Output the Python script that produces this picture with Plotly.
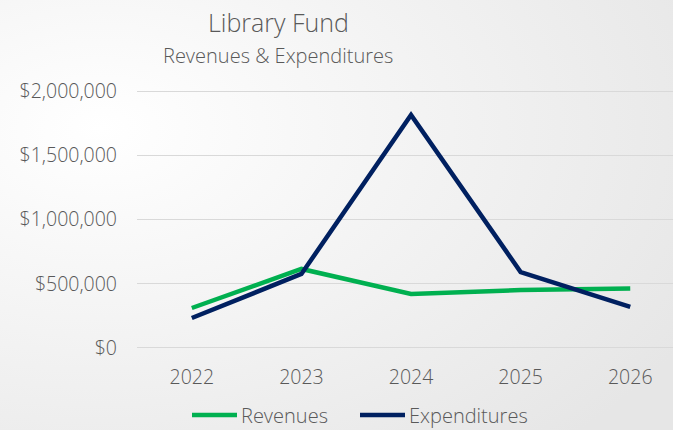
import base64
import plotly.graph_objects as go

years = ['2022', '2023', '2024', '2025', '2026']
revenues = [311000, 615000, 420000, 451000, 462000]
expenditures = [233000, 576000, 1813000, 591000, 319000]
y_ticks = [0, 500000, 1000000, 1500000, 2000000]
y_tick_labels = ['$0', '$500,000', '$1,000,000', '$1,500,000', '$2,000,000']
series_names = ['Revenues', 'Expenditures']
series_colors = ['#00B050', '#002060']

FONT = 'Open Sans'
TEXT = '#595959'
W, H = 673, 430
L, T, B = 137, 89, 80
PW, PH = W - L, H - T - B

# soft grey gradient background (white on the left, light grey on the right)
svg = ('<svg xmlns="http://www.w3.org/2000/svg" width="673" height="430">'
       '<defs><radialGradient id="g" cx="0.15" cy="0.3" r="1.0">'
       '<stop offset="0" stop-color="#ffffff"/>'
       '<stop offset="1" stop-color="#e6e6e6"/>'
       '</radialGradient></defs>'
       '<rect width="673" height="430" fill="url(#g)"/></svg>')
bg = 'data:image/svg+xml;base64,' + base64.b64encode(svg.encode()).decode()


def px(x):
    return (x - L) / PW


def py(y):
    return 1 - (y - T) / PH


fig = go.Figure()
for name, vals, col in zip(series_names, [revenues, expenditures], series_colors):
    fig.add_trace(go.Scatter(x=years, y=vals, name=name, mode='lines',
                             line=dict(color=col, width=4.5), showlegend=False))

# legend drawn by hand so the swatches are as long as in the original
legend_x = [192, 360]
shapes = []
annotations = [
    dict(text='Library Fund', xref='paper', yref='paper', x=px(278), y=py(22),
         xanchor='center', yanchor='middle', showarrow=False,
         font=dict(size=25, color=TEXT, weight=300)),
    dict(text='Revenues & Expenditures', xref='paper', yref='paper', x=px(278),
         y=py(55), xanchor='center', yanchor='middle', showarrow=False,
         font=dict(size=20, color=TEXT, weight=300)),
]
for x0, name, col in zip(legend_x, series_names, series_colors):
    shapes.append(dict(type='line', xref='paper', yref='paper', x0=px(x0), x1=px(x0 + 45),
                       y0=py(415), y1=py(415), line=dict(color=col, width=4.5)))
    annotations.append(dict(text=name, xref='paper', yref='paper', x=px(x0 + 47), y=py(415),
                            xanchor='left', yanchor='middle', showarrow=False,
                            font=dict(size=20, color=TEXT, weight=300)))

fig.update_layout(
    width=W, height=H,
    margin=dict(l=L, r=0, t=T, b=B, pad=0),
    paper_bgcolor='white',
    plot_bgcolor='rgba(0,0,0,0)',
    font=dict(family=FONT, color=TEXT, size=19, weight=300),
    showlegend=False,
    images=[dict(source=bg, xref='paper', yref='paper', x=px(0), y=py(0),
                 sizex=W / PW, sizey=H / PH, xanchor='left', yanchor='top',
                 sizing='stretch', layer='below')],
    shapes=shapes,
    annotations=annotations,
)

fig.update_xaxes(range=[-0.5, 4.39], showgrid=False, showline=False, ticks='',
                 ticklabelstandoff=13, tickfont=dict(size=19.5, color=TEXT, weight=300),
                 fixedrange=True)
fig.update_yaxes(range=[-16000, 2016000], tickvals=y_ticks, ticktext=y_tick_labels,
                 showgrid=True, gridcolor='#d9d9d9', gridwidth=1.3, zeroline=False,
                 showline=False, ticks='', ticklabelstandoff=19,
                 tickfont=dict(size=19.5, color=TEXT, weight=300), fixedrange=True)

fig.write_html('out.html', config={'displayModeBar': False},
               post_script="document.body.style.margin='0';")
